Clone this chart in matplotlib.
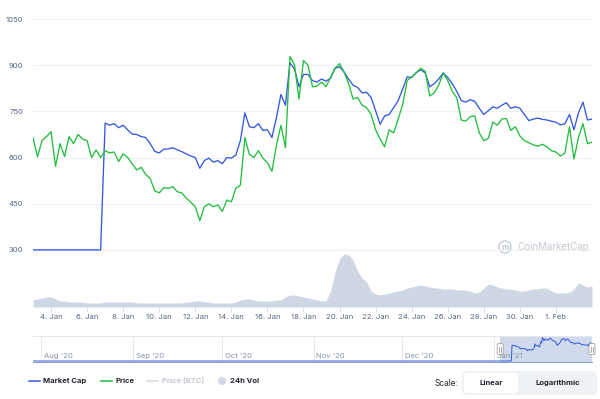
import pandas as pd
import matplotlib
matplotlib.use("Agg")
import matplotlib.pyplot as plt
from matplotlib.lines import Line2D
from matplotlib.patches import FancyBboxPatch, Circle
from matplotlib.transforms import IdentityTransform

plt.rcParams['font.family'] = ['Inter', 'DejaVu Sans']

# ---- data (6-hourly samples from 3 Jan 2021) ----
start = "2021-01-03"
step = "6h"

price = [664, 602, 655, 668, 684, 572, 645, 603, 668, 645,
         675, 660, 655, 600, 625, 600, 622, 615, 618, 587,
         612, 600, 580, 560, 568, 545, 532, 492, 485, 502,
         500, 505, 489, 485, 468, 455, 440, 395, 440, 450,
         440, 446, 425, 462, 456, 500, 510, 665, 610, 600,
         622, 598, 583, 555, 640, 705, 632, 928, 902, 790,
         915, 900, 830, 832, 845, 830, 860, 890, 905, 878,
         840, 790, 795, 770, 762, 740, 690, 660, 635, 690,
         680, 725, 772, 850, 862, 875, 890, 880, 800, 810,
         835, 875, 850, 815, 794, 722, 718, 733, 735, 680,
         655, 662, 715, 705, 725, 727, 688, 700, 670, 655,
         648, 641, 637, 643, 635, 622, 618, 605, 615, 700,
         595, 665, 710, 645, 650]

market_cap = [300, 300, 300, 300, 300, 300, 300, 300, 300, 300,
              300, 300, 300, 300, 300, 300, 712, 705, 710, 697,
              705, 690, 676, 675, 668, 665, 645, 620, 615, 627,
              628, 632, 625, 619, 612, 605, 600, 565, 590, 598,
              585, 590, 580, 600, 598, 608, 655, 745, 700, 697,
              710, 688, 690, 665, 730, 805, 770, 908, 888, 830,
              870, 870, 850, 845, 855, 848, 858, 890, 895, 878,
              855, 835, 828, 810, 812, 795, 752, 708, 735, 740,
              762, 785, 822, 862, 860, 876, 885, 875, 830, 840,
              855, 875, 860, 840, 815, 785, 780, 788, 782, 760,
              740, 752, 765, 760, 770, 778, 760, 765, 760, 740,
              720, 725, 728, 724, 722, 718, 715, 706, 710, 740,
              690, 745, 780, 722, 725]

volume = [7, 8, 9, 10, 10, 8, 6, 6, 5, 5,
          5, 5, 4, 4, 4, 4, 5, 5, 5, 5,
          5, 5, 5, 4, 4, 4, 4, 4, 4, 4,
          4, 4, 4, 4, 5, 5, 6, 6, 5, 5,
          4, 4, 4, 4, 4, 5, 7, 8, 8, 7,
          6, 6, 6, 6, 7, 7, 10, 12, 12, 11,
          10, 9, 8, 7, 6, 6, 16, 35, 48, 53,
          52, 47, 36, 29, 25, 16, 13, 12, 13, 14,
          15, 16, 17, 19, 20, 21, 22, 21, 20, 19,
          19, 18, 18, 18, 17, 17, 17, 16, 14, 15,
          19, 23, 22, 20, 19, 18, 18, 17, 16, 16,
          17, 18, 18, 19, 19, 16, 14, 14, 14, 15,
          18, 24, 22, 20, 21]

y_ticks = [300, 450, 600, 750, 900, 1050]
tick_dates = ["2021-01-04", "2021-01-06", "2021-01-08", "2021-01-10",
              "2021-01-12", "2021-01-14", "2021-01-16", "2021-01-18",
              "2021-01-20", "2021-01-22", "2021-01-24", "2021-01-26",
              "2021-01-28", "2021-01-30", "2021-02-01"]
tick_labels = ["4. Jan", "6. Jan", "8. Jan", "10. Jan", "12. Jan", "14. Jan",
               "16. Jan", "18. Jan", "20. Jan", "22. Jan", "24. Jan",
               "26. Jan", "28. Jan", "30. Jan", "1. Feb"]

nav_months = ["2020-08-01", "2020-09-01", "2020-10-01", "2020-11-01",
              "2020-12-01", "2021-01-01"]
nav_labels = ["Aug '20", "Sep '20", "Oct '20", "Nov '20", "Dec '20", "Jan '21"]
history_dates = ["2020-07-29"]
history_mcap = [300]

BLUE = "#3458e0"
GREEN = "#22bf3e"
VOL = "#cfd6e4"
GRID = "#eff2f5"
LABEL = "#58667e"
DARK = "#222531"
FS = 5.5

times = pd.date_range(start, periods=len(price), freq=step)
view_start = pd.Timestamp("2021-01-03")
view_end = pd.Timestamp("2021-02-03")

W, H = 600, 399
fig = plt.figure(figsize=(6, 3.99), dpi=100)

# ---- main chart ----
ax = fig.add_axes([33 / W, 92 / H, 559 / W, 292 / H])
axv = ax.twinx()
axv.fill_between(times, volume, color=VOL, lw=0)
axv.set_ylim(0, 292)
axv.axis("off")
ax.set_zorder(2)
ax.patch.set_visible(False)

ax.plot(times, market_cap, color=BLUE, lw=0.95)
ax.plot(times, price, color=GREEN, lw=0.95)
ax.set_xlim(view_start, view_end)
ax.set_ylim(114.5, 1063)
ax.set_yticks(y_ticks)
ax.set_yticklabels([str(v) for v in y_ticks])
ax.yaxis.grid(True, color=GRID, lw=0.8)
ax.set_axisbelow(True)
ax.tick_params(axis="y", length=0, pad=7, labelsize=FS, labelcolor=LABEL)
ax.set_xticks(pd.to_datetime(tick_dates))
ax.set_xticklabels(tick_labels)
ax.tick_params(axis="x", length=3.6, width=0.6, color="#ccd6eb", pad=1.5,
               labelsize=FS, labelcolor=LABEL)
for s in ax.spines.values():
    s.set_visible(False)

# watermark
fig.text(517 / W, (H - 247) / H, "CoinMarketCap", fontsize=7, color="#c5cbd5",
         va="center", ha="left")
fig.add_artist(Circle((505, H - 247), 6, transform=IdentityTransform(),
                      fill=False, ec="#c5cbd5", lw=1.0))
fig.text(505 / W, (H - 247.5) / H, "m", fontsize=6, color="#c5cbd5",
         va="center", ha="center", fontweight="bold")

# ---- navigator ----
nav = fig.add_axes([33 / W, 37 / H, 559 / W, 26 / H])
nav_x = list(pd.to_datetime(history_dates)) + list(times)
nav_y = history_mcap + market_cap
nav.set_xlim(pd.Timestamp("2020-07-29 06:00"), view_end)
nav.set_ylim(274, 952)
nav.axvspan(view_start, view_end, color="#6685c2", alpha=0.3, lw=0)
nav.plot(nav_x, nav_y, color=BLUE, lw=0.7)
for d, lab in zip(pd.to_datetime(nav_months), nav_labels):
    nav.axvline(d, color="#e6e9ee", lw=0.7, zorder=0)
    nav.annotate(lab, (d, 0), xycoords=("data", "axes fraction"),
                 xytext=(2, 2.5), textcoords="offset points",
                 fontsize=FS, color="#8a93a5", ha="left", va="bottom")
nav.set_xticks([])
nav.set_yticks([])
for k, s in nav.spines.items():
    s.set_visible(k in ("top", "bottom"))
nav.spines["top"].set_color("#e6e9ee")
nav.spines["top"].set_linewidth(0.7)
nav.spines["bottom"].set_color("#8fa2c8")
nav.spines["bottom"].set_linewidth(0.8)
nav.spines["bottom"].set_linestyle((0, (1, 1)))

fig.canvas.draw()
for d in (view_start, view_end):
    px, _ = nav.transData.transform((matplotlib.dates.date2num(d), 0))
    cy = H - 349
    fig.add_artist(FancyBboxPatch((px - 3, cy - 5.5), 6, 11,
                                  boxstyle="round,pad=0,rounding_size=1.5",
                                  transform=IdentityTransform(),
                                  fc="white", ec="#a0a0a0", lw=0.6, zorder=5))
    for dx in (-1, 1):
        fig.add_artist(Line2D([px + dx, px + dx], [cy - 2.5, cy + 2.5],
                              transform=IdentityTransform(), color="#888888",
                              lw=0.5, zorder=6))

# ---- legend ----
ly = (H - 381) / H
legend_items = [(29, 43, BLUE, "Market Cap", DARK),
                (101, 115, GREEN, "Price", DARK),
                (147, 162, "#d3d7de", "Price (BTC)", "#c5cad3")]
for x0, xt, col, lab, tcol in legend_items:
    fig.add_artist(Line2D([x0 / W, (x0 + 11) / W], [ly, ly], color=col, lw=1.1,
                          transform=fig.transFigure))
    fig.text(xt / W, ly, lab, fontsize=FS, fontweight="bold", color=tcol,
             va="center", ha="left")
fig.add_artist(Circle((222, H - 381), 4, transform=IdentityTransform(),
                      fc=VOL, ec="none"))
fig.text(230 / W, ly, "24h Vol", fontsize=FS, fontweight="bold", color=DARK,
         va="center", ha="left")

# ---- scale buttons ----
fig.text(458 / W, (H - 383) / H, "Scale:", fontsize=6, color=DARK,
         va="center", ha="right")
fig.add_artist(FancyBboxPatch((462, H - 395), 135, 24,
                              boxstyle="round,pad=0,rounding_size=5",
                              transform=IdentityTransform(),
                              fc="#eff2f5", ec="none"))
fig.add_artist(FancyBboxPatch((464, H - 393), 54, 20,
                              boxstyle="round,pad=0,rounding_size=4",
                              transform=IdentityTransform(),
                              fc="white", ec="none"))
fig.text(491 / W, (H - 383) / H, "Linear", fontsize=FS, fontweight="bold",
         color=DARK, va="center", ha="center")
fig.text(558 / W, (H - 383) / H, "Logarithmic", fontsize=FS, fontweight="bold",
         color=DARK, va="center", ha="center")

fig.savefig("out.png", dpi=100)
